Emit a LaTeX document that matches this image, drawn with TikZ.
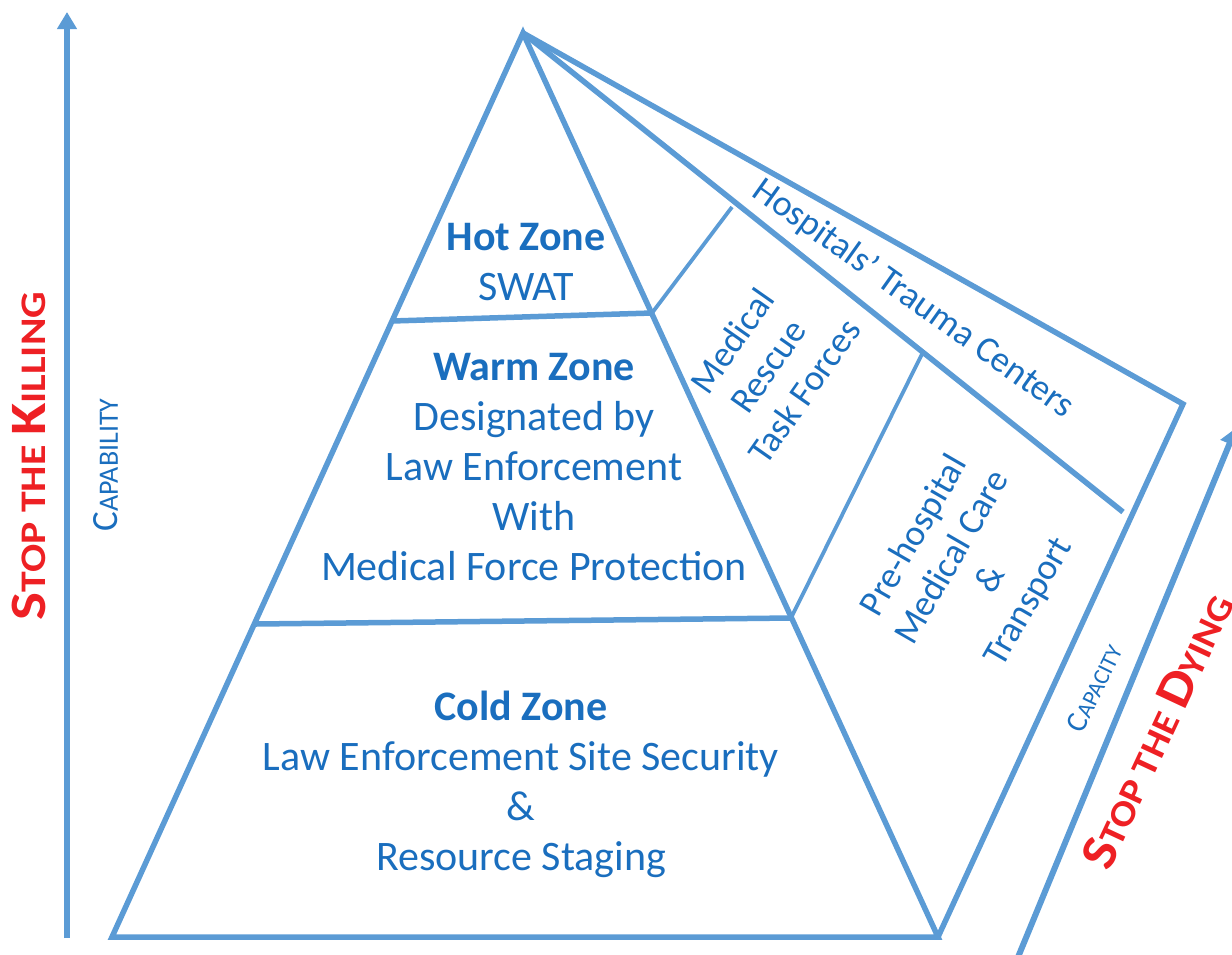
\documentclass[tikz,border=0pt]{standalone}
\usepackage{fontspec}
\setmainfont{Carlito}
\usetikzlibrary{arrows.meta}
\definecolor{edge}{HTML}{5B9BD5}
\definecolor{ink}{HTML}{1A6EBE}
\definecolor{alert}{HTML}{EE2024}
% small-caps style wording: full-size initial, reduced capitals after it
\newcommand{\initcap}[1]{{\fontsize{51}{51}\selectfont #1}}
\newcommand{\restcap}[1]{{\fontsize{36}{36}\selectfont #1}}
\newcommand{\lowcap}[1]{{\fontsize{28}{28}\selectfont #1}}
\begin{document}
\begin{tikzpicture}[x=1pt,y=-1pt,
  zone/.style={line width=5.5pt, draw=edge, line join=miter},
  divider/.style={line width=3.8pt, draw=edge},
  axis/.style={line width=6pt, draw=edge, -{Triangle[width=19pt,length=17pt]}},
  body/.style={text=ink, font=\fontsize{42}{50}\selectfont, inner sep=0pt, anchor=base},
  head/.style={body, font=\fontsize{42}{50}\selectfont\bfseries},
  tilted/.style={text=ink, font=\fontsize{36.5}{44}\selectfont, align=center, inner sep=0pt},
  slogan/.style={text=alert, font=\bfseries, inner sep=0pt},
  scale label/.style={text=ink, inner sep=0pt}]
\useasboundingbox (0,0) rectangle (1232,954);

% corner points of the pyramid and the side wings
\coordinate (apex)   at (523,33);
\coordinate (bl)     at (112,937);
\coordinate (br)     at (938,937);
\coordinate (hotL)   at (392,321);
\coordinate (hotR)   at (652,313);
\coordinate (warmL)  at (256,624);
\coordinate (warmR)  at (791,618);
\coordinate (midEnd) at (1123,512);
\coordinate (outer)  at (1183,404);
\coordinate (mrtTop) at (732,207);
\coordinate (phTop)  at (923,352);

% pyramid and zone boundaries
\draw[zone] (bl) -- (apex) -- (br) -- cycle;
\draw[zone] (hotL) -- (hotR);
\draw[zone] (warmL) -- (warmR);

% side wings
\draw[zone] (apex) -- (midEnd);
\draw[zone] (apex) -- (outer) -- (br);
\draw[divider] (hotR) -- (mrtTop);
\draw[divider] (warmR) -- (phTop);

% axes
\coordinate (capBase) at (67,938);
\coordinate (capTip)  at (67,12);
\draw[axis] (capBase) -- (capTip);
\coordinate (dyBase) at (1016,962);
\coordinate (dyTip)  at (1236,428);
\draw[axis] (dyBase) -- (dyTip);

% hot zone
\node[head] (hot)  at (526,250) {Hot Zone};
\node[body] (swat) at (526,300) {SWAT};

% warm zone
\node[head] (warm)  at (534,380) {Warm Zone};
\node[body] (warm1) at (534,430) {Designated by};
\node[body] (warm2) at (534,480) {Law Enforcement};
\node[body] (warm3) at (534,530) {With};
\node[body] (warm4) at (534,580) {Medical Force Protection};

% cold zone
\node[head] (cold)  at (521,720) {Cold Zone};
\node[body] (cold1) at (521,770) {Law Enforcement Site Security};
\node[body] (cold2) at (521,820) {\&};
\node[body] (cold3) at (521,870) {Resource Staging};

% wing labels
\node[tilted, rotate=-35.5] (hosp) at (913,299) {Hospitals’ Trauma Centers};
\node[tilted, rotate=55] (mrt) at (768,366) {Medical\\Rescue\\Task Forces};
\node[tilted, rotate=60] (ph) at (972,569) {Pre-hospital\\Medical Care\\\&\\Transport};

% axis labels
\node[scale label, rotate=90] (capability) at (106,465)
  {{\fontsize{37}{37}\selectfont C}\lowcap{APABILITY}};
\node[scale label, rotate=64] (capacity) at (1094,688)
  {{\fontsize{30}{30}\selectfont C}{\fontsize{23}{23}\selectfont APACITY}};
\node[slogan, rotate=90, xscale=1.16] (kill) at (29,456)
  {\initcap{S}\restcap{TOP THE }\initcap{K}\restcap{ILLING}};
\node[slogan, rotate=65, xscale=1.12] (dye) at (1157,731)
  {\initcap{S}\restcap{TOP THE }\initcap{D}\restcap{YING}};
\end{tikzpicture}
\end{document}
